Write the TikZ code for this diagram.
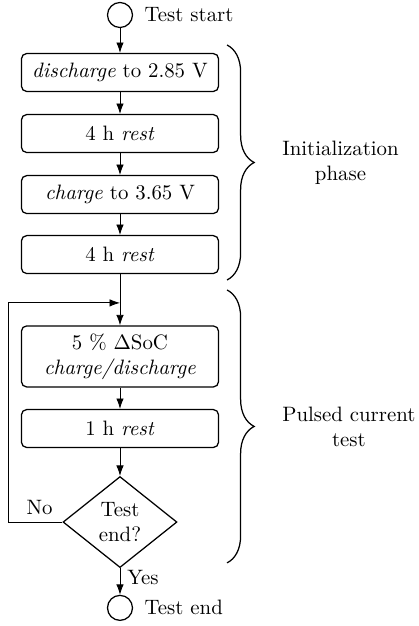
\documentclass[tikz,border=0pt]{standalone}
\usetikzlibrary{arrows.meta,positioning,shapes.geometric,decorations.pathreplacing}
\colorlet{box edge}{black}
\def\colx{57.6pt}
\tikzset{process/.style={draw=box edge, semithick, rounded corners=2.5pt, align=center,
        minimum width=94.6pt, minimum height=18.2pt},
    decision/.style={draw=box edge, semithick, diamond, align=center, inner sep=0pt,
        minimum width=54.7pt, minimum height=43.7pt},
    terminal/.style={draw=box edge, semithick, circle, minimum size=12pt, inner sep=0pt},
    flow/.style={-{Latex[length=5pt,width=3.6pt]}},
    phase/.style={draw, semithick, decorate, decoration={brace, amplitude=13pt}}}

\begin{document}
\begin{tikzpicture}
    \useasboundingbox (0,0) rectangle (201.1pt,-300.5pt);
    \node[terminal] (start) at (\colx,-7.2pt) {};
    \node[right=2pt of start] (startlabel) {Test start};
    \node[process] (discharge) at (\colx,-34.8pt) {\textit{discharge} to 2.85~V};
    \node[process] (restA) at (\colx,-64.1pt) {4 h \textit{rest}};
    \node[process] (charge) at (\colx,-93.4pt) {\textit{charge} to 3.65~V};
    \node[process] (restB) at (\colx,-122.2pt) {4 h \textit{rest}};
    \coordinate (join) at (\colx,-145.4pt);
    \node[process, minimum height=29.3pt] (pulse) at (\colx,-171.1pt)
        {5~\% $\Delta$SoC\\\textit{charge/discharge}};
    \node[process] (restC) at (\colx,-205.7pt) {1 h \textit{rest}};
    \node[decision] (check) at (\colx,-250.6pt) {Test\\end?};
    \node[terminal] (stop) at (\colx,-291.8pt) {};
    \node[right=2pt of stop] (stoplabel) {Test end};
    \coordinate (loopcorner) at (3.84pt,-250.6pt);

    \foreach \a/\b in {start/discharge, discharge/restA, restA/charge, charge/restB,
        restB/pulse, pulse/restC, restC/check}
        \draw[flow] (\a) -- (\b);
    \draw[flow] (check) -- node[right, pos=0.35] (yeslabel) {Yes} (stop);
    \draw[flow] (check.west) -- node[above, pos=0.42] (nolabel) {No} (loopcorner) |- (join);

    \draw[phase] (109pt,-21.6pt) -- (109pt,-134.4pt);
    \draw[phase] (109pt,-139.2pt) -- (109pt,-270.2pt);
    \node[anchor=west, align=center] (initlabel) at (132pt,-78pt) {Initialization\\phase};
    \node[anchor=west, align=center] (pulselabel) at (132pt,-204.7pt) {Pulsed current\\test};
\end{tikzpicture}
\end{document}
